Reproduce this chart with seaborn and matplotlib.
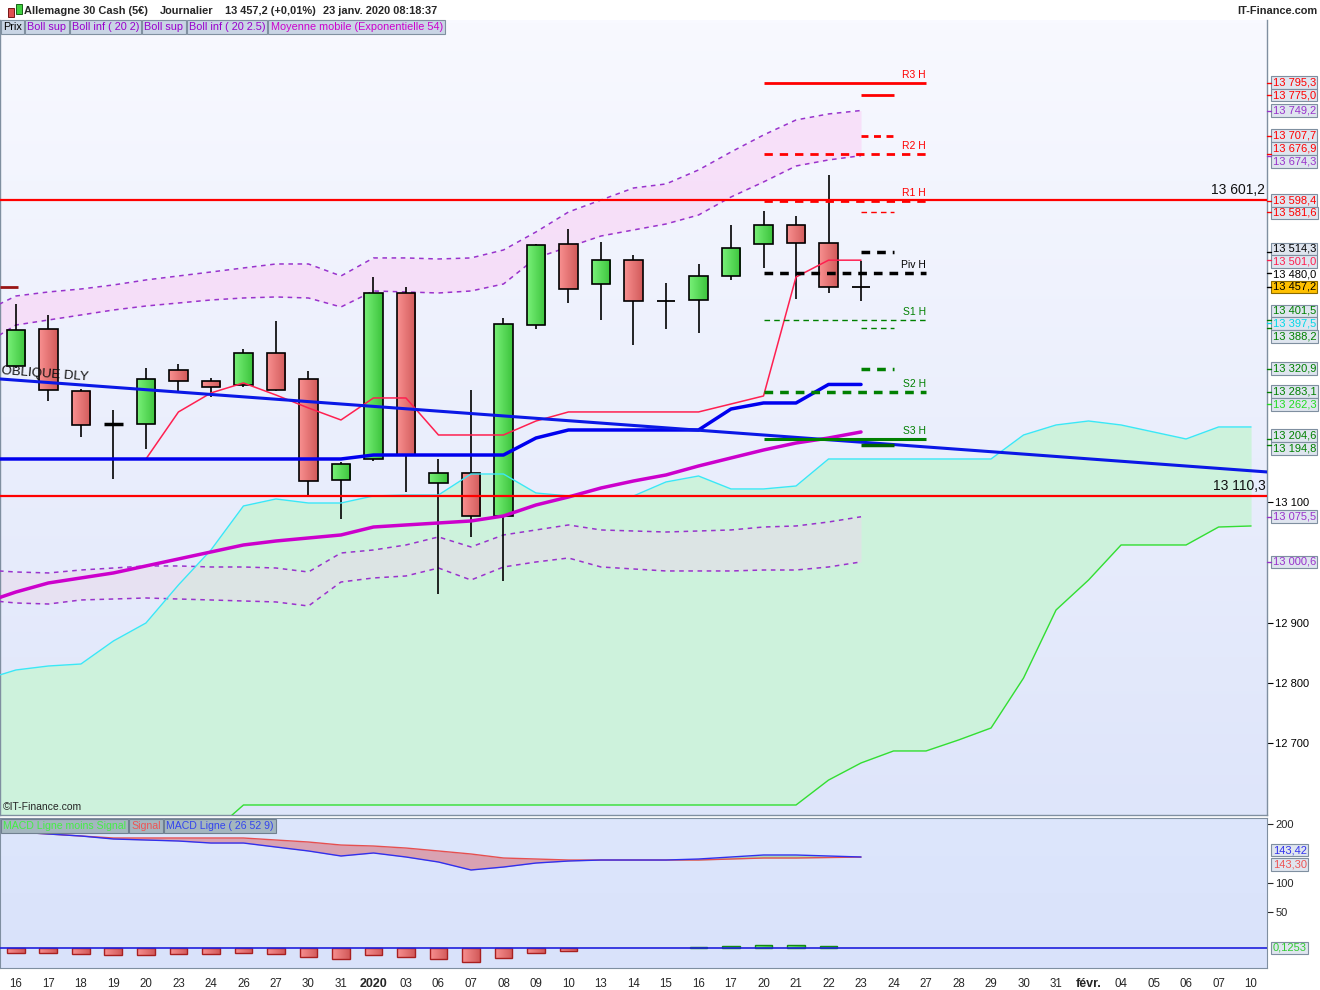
import numpy as np
import pandas as pd
import matplotlib
matplotlib.use("Agg")
import matplotlib.pyplot as plt
import matplotlib.transforms as mtransforms
from matplotlib.colors import LinearSegmentedColormap
from matplotlib.patches import Rectangle
import seaborn as sns

# ---------------- data (Allemagne 30, daily) ----------------
day_labels = ["16", "17", "18", "19", "20", "23", "24", "26", "27", "30", "31", "2020", "03",
              "06", "07", "08", "09", "10", "13", "14", "15", "16", "17", "20", "21", "22",
              "23", "24", "27", "28", "29", "30", "31", "févr.", "04", "05", "06", "07", "10"]

# candles, 16 Dec 2019 -> 23 Jan 2020
opens = [13325.5, 13386.9, 13284.1, 13228.5, 13229.4, 13318.9, 13300.2, 13294.0, 13347.1, 13303.5,
         13136.0, 13170.8, 13446.1, 13131.0, 13147.6, 13076.3, 13393.0, 13527.4, 13461.0, 13500.8,
         13432.8, 13434.5, 13474.3, 13527.4, 13558.9, 13529.0, 13457.0]
highs = [13428.4, 13410.1, 13287.4, 13252.6, 13322.2, 13328.9, 13305.6, 13353.7, 13400.2, 13317.3,
         13166.3, 13472.6, 13456.1, 13170.8, 13285.7, 13404.6, 13527.9, 13552.7, 13531.2, 13509.6,
         13462.7, 13494.7, 13559.4, 13582.6, 13574.3, 13642.3, 13500.2]
lows = [13323.0, 13267.5, 13207.8, 13138.1, 13187.9, 13282.4, 13274.1, 13290.7, 13284.0, 13108.3,
        13071.8, 13168.5, 13117.1, 12946.9, 13042.5, 12969.5, 13387.4, 13430.5, 13402.3, 13360.9,
        13387.4, 13380.8, 13468.7, 13488.6, 13437.2, 13447.1, 13433.8]
closes = [13385.2, 13285.7, 13227.7, 13228.0, 13304.0, 13300.7, 13290.2, 13347.1, 13285.7, 13134.8,
          13162.5, 13446.1, 13177.9, 13147.6, 13076.3, 13394.7, 13525.7, 13452.7, 13500.8, 13432.8,
          13433.0, 13474.3, 13520.7, 13558.9, 13529.0, 13456.1, 13457.2]

# indicators, starting one session before the first candle (13 Dec)
boll_up_25 = [13415.1, 13441.6, 13448.3, 13453.2, 13459.9, 13468.2, 13474.8, 13481.4, 13488.1, 13494.7,
              13494.7, 13474.8, 13504.7, 13504.7, 13503.0, 13504.7, 13517.9, 13547.8, 13580.9, 13600.8,
              13620.7, 13627.4, 13650.6, 13680.4, 13708.6, 13733.5, 13743.5, 13749.2]
boll_up_20 = [13360.4, 13393.5, 13401.8, 13410.1, 13418.4, 13425.0, 13430.0, 13435.0, 13438.3, 13440.0,
              13438.3, 13423.4, 13449.9, 13448.3, 13446.6, 13449.9, 13461.5, 13504.7, 13522.9, 13541.1,
              13551.1, 13561.0, 13575.9, 13605.8, 13630.7, 13657.2, 13667.2, 13674.3]
boll_dn_20 = [12987.2, 12983.9, 12982.3, 12987.2, 12990.5, 12993.9, 12993.9, 12992.2, 12992.2, 12990.5,
              12983.9, 13015.4, 13020.4, 13028.7, 13042.0, 13025.4, 13045.3, 13053.6, 13061.9, 13053.6,
              13051.9, 13050.2, 13051.9, 13053.6, 13058.5, 13060.2, 13066.8, 13075.5]
boll_dn_25 = [12937.5, 12932.5, 12930.8, 12937.5, 12939.1, 12940.8, 12939.1, 12937.5, 12935.8, 12934.2,
              12927.5, 12967.3, 12974.0, 12977.3, 12990.5, 12970.6, 12992.2, 13000.5, 13007.1, 12992.2,
              12988.9, 12985.6, 12985.6, 12985.6, 12987.2, 12987.2, 12992.2, 13000.6]
ema54 = [12932.5, 12950.7, 12965.7, 12974.0, 12982.3, 12993.9, 13005.5, 13017.1, 13028.7, 13035.3,
         13040.3, 13045.3, 13058.5, 13061.9, 13065.2, 13068.5, 13076.8, 13095.0, 13108.3, 13123.2,
         13134.8, 13144.8, 13159.7, 13173.0, 13186.2, 13197.8, 13206.1, 13216.1]
kijun = [13171.3] * 12 + [13177.9] * 5 + [13206.1] + [13219.4] * 5 + [13254.2, 13264.2, 13264.2,
                                                                       13294.9, 13294.9]
# tenkan starts on the first candle
tenkan = [13171.3, 13171.3, 13171.3, 13171.3, 13171.3, 13249.3, 13280.8, 13297.4, 13277.4, 13255.9,
          13236.0, 13272.5, 13272.5, 13211.1, 13211.1, 13211.1, 13234.3, 13249.3, 13249.3, 13249.3,
          13249.3, 13249.3, 13262.5, 13275.8, 13473.1, 13501.0, 13501.0]

# ichimoku cloud, 13 Dec -> 10 Feb
senkou_a = [12804.8, 12821.4, 12828.0, 12831.3, 12869.5, 12899.3, 12962.4, 13020.4, 13093.4, 13105.0,
            13098.3, 13098.3, 13110.0, 13111.6, 13111.6, 13146.4, 13146.4, 13114.9, 13110.0, 13110.0,
            13110.0, 13133.2, 13143.1, 13121.6, 13121.6, 13126.5, 13171.3, 13171.3, 13171.3, 13171.3,
            13171.3, 13171.3, 13211.1, 13227.7, 13234.3, 13227.7, 13216.1, 13204.5, 13224.4, 13224.4]
senkou_b = [12550.0] * 8 + [12597.5] * 18 + [12638.8, 12667.2, 12687.1, 12687.1, 12705.3, 12725.2,
                                             12808.1, 12920.9, 12970.6, 13028.7, 13028.7, 13028.7,
                                             13058.5, 13060.2]

# oblique trend line (value at left and right edge of the chart) and horizontal levels
oblique_ends = [13304.0, 13149.8]
h_levels = [13601.2, 13110.3]
prev_level = 13456.5

# weekly pivots (from 20 Jan) and the short levels drawn for the current week
pivot_names = ["R3 H", "R2 H", "R1 H", "Piv H", "S1 H", "S2 H", "S3 H"]
pivot_values = [13795.3, 13676.9, 13598.4, 13480.0, 13401.5, 13283.1, 13204.6]
short_values = [13775.0, 13707.7, 13581.6, 13514.3, 13388.2, 13320.9, 13194.8]

# MACD (26 52 9)
macd_line = [185.8, 182.4, 179.0, 173.9, 172.2, 170.5, 167.1, 167.1, 160.3, 153.6, 145.1, 150.2, 143.4,
             134.9, 121.4, 126.4, 133.2, 136.6, 138.3, 138.3, 138.3, 140.0, 143.4, 146.8, 146.8, 145.1,
             143.42]
signal_line = [185.8, 182.4, 179.0, 175.6, 175.6, 175.6, 175.6, 175.6, 172.2, 168.8, 163.7, 162.0, 158.6,
               153.6, 148.5, 141.7, 140.0, 138.3, 138.3, 138.3, 138.3, 138.3, 140.0, 141.7, 141.7, 142.5,
               143.30]
macd_hist = [-8.5, -8.5, -10.2, -11.9, -11.9, -10.2, -10.2, -8.5, -10.2, -15.3, -18.6, -11.9, -15.3,
             -18.6, -23.7, -16.9, -8.5, -5.1, 0.0, 0.0, 0.0, 1.7, 3.9, 5.6, 5.6, 3.9, 0.1253]

# right-hand value boxes
axis_label_values = [13795.3, 13775.0, 13749.2, 13707.7, 13676.9, 13674.3, 13598.4, 13581.6, 13514.3,
                     13501.0, 13480.0, 13457.2, 13401.5, 13397.5, 13388.2, 13320.9, 13283.1, 13262.3,
                     13204.6, 13194.8, 13075.5, 13000.6]
axis_label_colors = ["#ff0000", "#ff0000", "#9933cc", "#ff0000", "#ff0000", "#9933cc", "#ff0000",
                     "#ff0000", "#000000", "#ff2050", "#000000", "#000000", "#008000", "#00d8e8",
                     "#008000", "#008000", "#008000", "#22dd22", "#008000", "#008000", "#9933cc",
                     "#9933cc"]

GREEN_GRAD = ["#78f078", "#3cc43c"]
RED_GRAD = ["#f89090", "#d25a5a"]


def fr(v, dec=1):
    return f"{v:,.{dec}f}".replace(",", " ").replace(".", ",")


def spread(values, gap):
    pos = list(values)
    for _ in range(300):
        moved = False
        for k in range(len(pos) - 1):
            d = pos[k] - pos[k + 1]
            if d < gap - 1e-6:
                s = (gap - d) / 2
                pos[k] += s
                pos[k + 1] -= s
                moved = True
        if not moved:
            break
    return pos


def shade_patch(axis, patch, colors, z):
    # horizontal gradient inside a rectangle patch
    x0, y0 = patch.get_x(), patch.get_y()
    w, h = patch.get_width(), patch.get_height()
    cm = LinearSegmentedColormap.from_list("g", colors)
    im = axis.imshow(np.linspace(0, 1, 32).reshape(1, -1), extent=[x0, x0 + w, y0, y0 + h],
                     cmap=cm, aspect="auto", interpolation="bilinear", zorder=z)
    im.set_clip_path(patch)


sns.set_style("white")
plt.rcParams['font.family'] = ['Liberation Sans', 'DejaVu Sans']

W, H = 1320, 990
fig = plt.figure(figsize=(W / 100, H / 100), dpi=100)
fig.patch.set_facecolor("white")


def fx(px):
    return px / W


def fy(py):
    return 1 - py / H


ax = fig.add_axes([0, fy(815), fx(1267), (815 - 20) / H])
axm = fig.add_axes([0, fy(968), fx(1267), (968 - 818) / H], sharex=ax)

XMIN, XMAX = -0.49, len(day_labels) - 0.51
YMIN, YMAX = 12580.9, 13899.3

# backgrounds
grad = np.linspace(0, 1, 256).reshape(-1, 1)
ax.imshow(grad, extent=[0, 1, 0, 1], transform=ax.transAxes, aspect="auto", zorder=0,
          cmap=LinearSegmentedColormap.from_list("bg", ["#f8f9ff", "#dee5fa"]))
axm.imshow(grad, extent=[0, 1, 0, 1], transform=axm.transAxes, aspect="auto", zorder=0,
           cmap=LinearSegmentedColormap.from_list("bg2", ["#dde6fc", "#d9e2fa"]))

bands = pd.DataFrame({"x": np.arange(len(ema54)) - 1, "up25": boll_up_25, "up20": boll_up_20,
                      "dn20": boll_dn_20, "dn25": boll_dn_25, "ema": ema54, "kijun": kijun})
cloud = pd.DataFrame({"x": np.arange(len(senkou_a)) - 1, "a": senkou_a, "b": senkou_b})
candles = pd.DataFrame({"x": np.arange(len(closes)), "open": opens, "high": highs, "low": lows,
                        "close": closes, "tenkan": tenkan, "macd": macd_line, "signal": signal_line,
                        "histo": macd_hist})

# ichimoku cloud
ax.fill_between(cloud["x"], cloud["a"], cloud["b"], color="#cdf2dc", lw=0, zorder=1)
sns.lineplot(data=cloud, x="x", y="a", ax=ax, color="#3ae8f5", lw=1, zorder=5)
sns.lineplot(data=cloud, x="x", y="b", ax=ax, color="#33dd33", lw=1, zorder=5)

# bollinger bands
ax.fill_between(bands["x"], bands["up20"], bands["up25"], color="#fad2f6", alpha=0.6, lw=0, zorder=2)
ax.fill_between(bands["x"], bands["dn25"], bands["dn20"], color="#eadaec", alpha=0.55, lw=0, zorder=2)
for col in ["up25", "up20", "dn20", "dn25"]:
    ax.plot(bands["x"], bands[col], color="#9933cc", lw=1.1, linestyle=(0, (3, 3)), zorder=3)

# candles
body_w = 0.58
for r in candles.itertuples():
    ax.vlines(r.x, r.low, r.high, color="black", lw=1.2, zorder=4)
    if abs(r.close - r.open) < 2:
        ax.hlines(r.open, r.x - body_w / 2, r.x + body_w / 2, color="black",
                  lw=2.5 if r.x == 3 else 1.3, zorder=4)
    else:
        cols = GREEN_GRAD if r.close > r.open else RED_GRAD
        body = Rectangle((r.x - body_w / 2, min(r.open, r.close)), body_w, abs(r.close - r.open),
                         fc="none", ec="black", lw=1.2, zorder=4.2)
        ax.add_patch(body)
        shade_patch(ax, body, cols, 4.1)

# moving average and ichimoku lines
sns.lineplot(data=bands, x="x", y="ema", ax=ax, color="#cc00cc", lw=2.5, zorder=6)
sns.lineplot(data=candles, x="x", y="tenkan", ax=ax, color="#ff2050", lw=1.1, zorder=6)
sns.lineplot(data=bands, x="x", y="kijun", ax=ax, color="#0000ee", lw=2.5, zorder=6)

# oblique line
ax.plot([XMIN, XMAX], oblique_ends, color="#0a18e6", lw=2.2, zorder=6)
slope_px = (oblique_ends[1] - oblique_ends[0]) / (YMAX - YMIN) * 795 / 1267
ang = np.degrees(np.arctan(slope_px))
ax.text(XMIN + 0.02, oblique_ends[0] + 4, "OBLIQUE DLY", fontsize=9.5, color="#111111",
        rotation=ang, rotation_mode="anchor", ha="left", va="bottom", zorder=7)

# horizontal levels
for v in h_levels:
    ax.axhline(v, color="#ff0000", lw=1.6, zorder=7)
    ax.text(XMAX - 0.05, v + 4, fr(v), fontsize=10, ha="right", va="bottom", color="#111111", zorder=8)
ax.hlines(prev_level, XMIN, 0.05, color="#991515", lw=2, zorder=7)

# pivot levels (weekly, from 20 Jan)
piv_colors = ["#ff0000", "#ff0000", "#ff0000", "#000000", "#008000", "#008000", "#008000"]
piv_styles = ["-", (0, (3, 2.5)), (0, (3, 2.5)), (0, (2.5, 2)), (0, (4, 3)), (0, (2.5, 2)), "-"]
piv_widths = [2, 2, 2, 2.5, 1, 2.5, 2.2]
short_widths = [2, 2, 1, 2.5, 1, 2.5, 2.5]
short_styles = ["-", (0, (2.5, 2)), (0, (4, 3)), (0, (2.5, 2)), (0, (4, 3)), (0, (2.5, 2)), "-"]
short_colors = ["#ff0000", "#ff0000", "#ff0000", "#000000", "#008000", "#008000", "#006400"]
for name, v, c, ls, lw in zip(pivot_names, pivot_values, piv_colors, piv_styles, piv_widths):
    ax.hlines(v, 23, 28, color=c, linestyles=[ls], lw=lw, zorder=7)
    ax.text(28, v + 5, name, fontsize=7.5, color=c, ha="right", va="bottom", zorder=8)
for v, c, ls, lw in zip(short_values, short_colors, short_styles, short_widths):
    ax.hlines(v, 26, 27, color=c, linestyles=[ls], lw=lw, zorder=7)

ax.text(0.002, 0.004, "©IT-Finance.com", transform=ax.transAxes, fontsize=7.5, ha="left",
        va="bottom", zorder=8)

ax.set_xlim(XMIN, XMAX)
ax.set_ylim(YMIN, YMAX)
ax.set_xlabel("")
ax.set_ylabel("")
ax.set_yticks([12700, 12800, 12900, 13100])
ax.set_yticklabels([fr(v, 0) for v in [12700, 12800, 12900, 13100]])
ax.yaxis.tick_right()
ax.tick_params(axis="y", length=4, width=0.8, labelsize=8, pad=2, colors="black")
ax.tick_params(axis="x", bottom=False, labelbottom=False)
for side, sp in ax.spines.items():
    sp.set_color("#7f8fa0")
    sp.set_linewidth(1)
ax.spines["top"].set_visible(False)

# right-hand value boxes
order = np.argsort(axis_label_values)[::-1]
vals_sorted = [axis_label_values[k] for k in order]
pos = spread(vals_sorted, 21.0)
trans = mtransforms.blended_transform_factory(ax.transAxes, ax.transData)
for k, p in zip(order, pos):
    v = axis_label_values[k]
    c = axis_label_colors[k]
    ax.plot([1.0, 1.0035], [v, v], color=c, lw=1, transform=trans, clip_on=False, zorder=9)
    if v == 13480.0:
        ax.text(1.0045, p, fr(v), color=c, fontsize=8, ha="left", va="center", transform=trans)
        continue
    if v == closes[-1]:
        fc, ec = "#ffc000", "#8a6a00"
    else:
        fc, ec = "#dfe5ef", "#7f8fa0"
    ax.text(1.0045, p, fr(v), color=c, fontsize=8, ha="left", va="center", transform=trans,
            bbox=dict(boxstyle="square,pad=0.12", fc=fc, ec=ec, lw=0.8))

# ---------------- MACD panel ----------------
axh = axm.twinx()
mx = candles["x"].values
m = candles["macd"].values
s = candles["signal"].values
axm.fill_between(mx, m, s, where=s >= m, interpolate=True, color="#d9a2b2", lw=0, zorder=2)
axm.fill_between(mx, m, s, where=m > s, interpolate=True, color="#a8d8b4", lw=0, zorder=2)
sns.lineplot(data=candles, x="x", y="signal", ax=axm, color="#e65050", lw=1, zorder=3)
sns.lineplot(data=candles, x="x", y="macd", ax=axm, color="#3030ee", lw=1, zorder=3)

hedges = ["none" if abs(v) < 1 else ("#a82020" if v < 0 else "#138a13") for v in macd_hist]
bars = axh.bar(mx, candles["histo"].values, width=0.55, color="none", edgecolor=hedges, lw=1, zorder=3.2)
for b, v in zip(bars, macd_hist):
    if abs(v) >= 1:
        shade_patch(axh, b, RED_GRAD if v < 0 else GREEN_GRAD, 3.1)
axh.axhline(0, color="#2020dd", lw=1.2, zorder=4)
axh.set_xlim(XMIN, XMAX)
axh.set_ylim(-33.9, 220.3)
axh.set_yticks([])
axh.set_ylabel("")
for sp in axh.spines.values():
    sp.set_visible(False)

axm.set_ylim(-44.7, 209.5)
axm.set_xlim(XMIN, XMAX)
axm.set_xlabel("")
axm.set_ylabel("")
axm.yaxis.tick_right()
axm.set_yticks([50, 100, 200])
axm.set_yticklabels(["50", "100", "200"])
axm.tick_params(axis="y", length=4, width=0.8, labelsize=8, pad=2)
axm.set_xticks(range(len(day_labels)))
axm.set_xticklabels(day_labels)
axm.tick_params(axis="x", length=4, width=0.8, color="#7f8fa0", labelsize=8.3, pad=3)
for t in axm.get_xticklabels():
    if t.get_text() in ("2020", "févr."):
        t.set_fontweight("bold")
        t.set_fontsize(9)
for sp in axm.spines.values():
    sp.set_color("#7f8fa0")

mtrans = mtransforms.blended_transform_factory(axm.transAxes, axm.transData)
htrans = mtransforms.blended_transform_factory(axh.transAxes, axh.transData)
for v, p, c, txt, tr in [(macd_line[-1], 155, "#3333ee", fr(macd_line[-1], 2), mtrans),
                         (signal_line[-1], 131, "#ee5555", fr(signal_line[-1], 2), mtrans),
                         (macd_hist[-1], 0, "#33cc33", fr(macd_hist[-1], 4), htrans)]:
    axm.text(1.0045, p, txt, color=c, fontsize=8, ha="left", va="center", transform=tr,
             bbox=dict(boxstyle="square,pad=0.12", fc="#dfe5ef", ec="#7f8fa0", lw=0.8))

# ---------------- header & legends ----------------
fig.patches.append(Rectangle((fx(8), fy(17)), fx(6), 9 / H, fc="#e05050", ec="#600000", lw=0.6,
                             transform=fig.transFigure, figure=fig))
fig.patches.append(Rectangle((fx(16), fy(14)), fx(6), 10 / H, fc="#40d040", ec="#005000", lw=0.6,
                             transform=fig.transFigure, figure=fig))
for px, txt in [(24, "Allemagne 30 Cash (5€)"), (160, "Journalier"), (225, "13 457,2 (+0,01%)"),
                (323, "23 janv. 2020 08:18:37")]:
    fig.text(fx(px), fy(11), txt, fontsize=7.9, fontweight="bold", ha="left", va="center")
fig.text(fx(1317), fy(11), "IT-Finance.com", fontsize=7.9, fontweight="bold", ha="right", va="center")

renderer = fig.canvas.get_renderer()


def box_row(items, x_px, y_px, fs, bg, ec):
    pad = 0.2
    pad_px = pad * fs * 100 / 72
    x = x_px + pad_px
    for txt, col in items:
        t = fig.text(fx(x), fy(y_px), txt, color=col, fontsize=fs, ha="left", va="center",
                     bbox=dict(boxstyle=f"square,pad={pad}", fc=bg, ec=ec, lw=0.8), zorder=20)
        bb = t.get_window_extent(renderer)
        x = bb.x1 + 2 * pad_px + 1


box_row([("Prix", "#000000"), ("Boll sup", "#9900cc"), ("Boll inf ( 20 2)", "#9900cc"),
         ("Boll sup", "#9900cc"), ("Boll inf ( 20 2.5)", "#9900cc"),
         ("Moyenne mobile (Exponentielle 54)", "#cc00cc")], 1, 27, 7.8, "#c9d5e5", "#8090a0")
box_row([("MACD Ligne moins Signal", "#44ee44"), ("Signal", "#ee5555"),
         ("MACD Ligne ( 26 52 9)", "#3344ee")], 1, 826, 7.6, "#a4b6bf", "#708090")

fig.savefig("out.png", dpi=100)
